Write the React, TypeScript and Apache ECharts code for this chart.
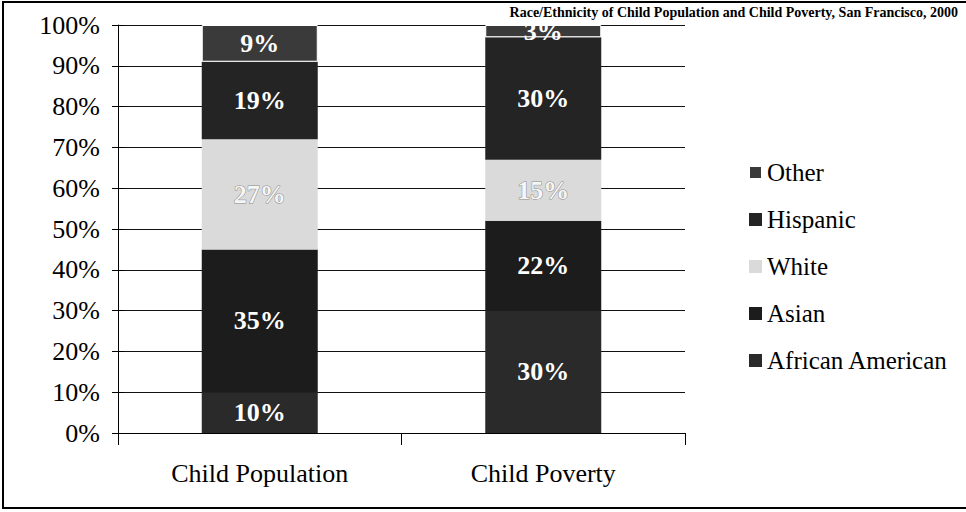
import React, { useEffect, useRef } from "react";
import * as echarts from "echarts";

const categories = ["Child Population", "Child Poverty"];
const africanAmerican = [10, 30];
const asian = [35, 22];
const white = [27, 15];
const hispanic = [19, 30];
const other = [9, 3];
const legendOrder = ["Other", "Hispanic", "White", "Asian", "African American"];
const titleText = "Race/Ethnicity of Child Population and Child Poverty, San Francisco, 2000";

const FONT = "Liberation Serif, Times New Roman, serif";

export default function App() {
  const ref = useRef<HTMLDivElement>(null);
  useEffect(() => {
    if (!ref.current) return;
    const chart = echarts.init(ref.current, null, { renderer: "svg" });
    const label = (color: string, border?: string) => ({
      show: true,
      position: "inside",
      formatter: (p: any) => p.value + "%",
      color,
      fontFamily: FONT,
      fontSize: 26,
      fontWeight: "bold",
      textBorderColor: border || "transparent",
      textBorderWidth: border ? 1 : 0,
    });
    const mk = (name: string, data: number[], color: string, lbl: any, border = 0) => ({
      name,
      type: "bar",
      stack: "total",
      data,
      barWidth: 116,
      itemStyle: { color, borderColor: "#ffffff", borderWidth: border },
      label: lbl,
      emphasis: { disabled: true },
    });
    chart.setOption({
      animation: false,
      backgroundColor: "#ffffff",
      textStyle: { fontFamily: FONT },
      grid: { left: 118, right: 281, top: 25, bottom: 79, containLabel: false },
      legend: {
        orient: "vertical",
        left: 743,
        top: 155,
        data: legendOrder,
        itemWidth: 13,
        itemHeight: 13,
        itemGap: 22,
        icon: "rect",
        formatter: "{s|{name}}",
        textStyle: {
          fontFamily: FONT,
          fontSize: 25,
          color: "#000",
          rich: { s: { fontFamily: FONT, fontSize: 25, color: "#000" } },
        },
      },
      xAxis: {
        type: "category",
        data: categories,
        axisLine: { lineStyle: { color: "#000", width: 1 } },
        axisTick: { show: true, length: 12, lineStyle: { color: "#000" } },
        axisLabel: { color: "#000", fontFamily: FONT, fontSize: 26, margin: 27 },
      },
      yAxis: [
        {
          type: "value",
          min: 0,
          max: 100,
          interval: 10,
          axisLine: { show: true, lineStyle: { color: "#000" } },
          axisTick: { show: true, length: 6, lineStyle: { color: "#000" } },
          axisLabel: { formatter: "{value}%", color: "#000", fontFamily: FONT, fontSize: 26, margin: 18 },
          splitLine: { show: true, lineStyle: { color: "#111", width: 1 } },
        },
        {
          type: "value",
          position: "left",
          min: 0,
          max: 100,
          interval: 10,
          axisLine: { show: false },
          axisTick: { show: true, inside: true, length: 6, lineStyle: { color: "#000" } },
          axisLabel: { show: false },
          splitLine: { show: false },
        },
      ],
      series: [
        mk("African American", africanAmerican, "#2a2a2a", label("#ffffff")),
        mk("Asian", asian, "#1c1c1c", label("#ffffff")),
        mk("White", white, "#dadada", label("#f6f6f6", "#8a8a8a")),
        mk("Hispanic", hispanic, "#242424", label("#ffffff")),
        mk("Other", other, "#3a3a3a", label("#ffffff"), 1),
      ],
      graphic: [
        {
          type: "rect",
          shape: { x: 3, y: 2, width: 1000, height: 506 },
          style: { fill: "none", stroke: "#000", lineWidth: 2 },
          silent: true,
        },
        {
          type: "text",
          x: 958,
          y: 5,
          style: {
            text: titleText,
            fontFamily: FONT,
            fontSize: 14,
            fontWeight: "bold",
            fill: "#000",
            align: "right",
            verticalAlign: "top",
          },
          silent: true,
        },
      ],
    });
    return () => chart.dispose();
  }, []);
  return (
    <div
      ref={ref}
      style={{ position: "absolute", left: 0, top: 0, width: 966, height: 512 }}
    />
  );
}
